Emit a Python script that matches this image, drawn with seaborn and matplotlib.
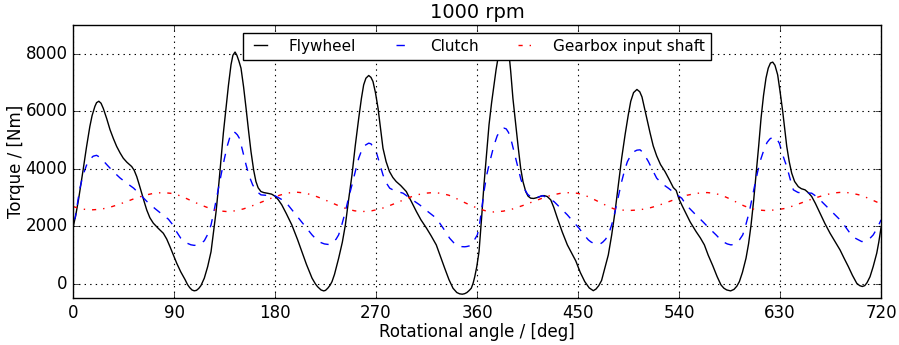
import numpy as np
import pandas as pd
import matplotlib
matplotlib.use("Agg")
import matplotlib.pyplot as plt
import seaborn as sns

# flywheel torque (angle in deg, torque in Nm)
fly_angle = [0, 2.5, 5, 7, 9, 12, 15, 17, 19.5, 21, 23, 25, 27, 30, 33, 36, 38.9, 42, 44.8, 48,
             52.3, 54.5, 56.8, 59, 61.2, 63.5, 65.7, 68.5, 71.6, 76, 80.5, 83.5, 86.4, 89.5, 92.4,
             96, 100, 102, 104, 106, 108, 110, 112, 114, 117, 120, 123, 125, 127.5, 130, 132, 134,
             136.3, 138.5, 140.8, 142.5, 144.4, 146, 147.8, 149.7, 152, 154.2, 156.5, 158.6, 161,
             163, 165, 167.5, 170, 173.5, 177, 180, 183, 186, 190, 195, 200, 204, 208, 213, 216,
             218, 221, 223.4, 225, 227, 229, 230.8, 233, 236.7, 240, 242.7, 245.5, 248.6, 251.5,
             254.6, 257, 259, 261, 263.5, 265.5, 267.3, 269.5, 271.8, 274, 276.2, 279, 282, 285,
             288, 292, 297, 301, 306, 310, 315, 319, 323.7, 327, 331.2, 335, 338.6, 342, 344.5,
             346.9, 349, 351, 353, 354.9, 356.5, 358, 359.8, 361.8, 364, 366.2, 368.5, 370.7, 373,
             375.2, 377, 378.7, 380.5, 382.5, 384.5, 386.5, 388.5, 390, 392, 394.5, 396.7, 398.9,
             401, 403.4, 405.5, 407.8, 410.5, 413.7, 417, 419.7, 422.5, 425.7, 428.5, 431.6, 436,
             440.5, 444, 448, 452, 456, 460, 463.6, 466, 468.5, 471, 474, 477, 480, 483, 486,
             488.9, 492, 494.8, 497, 499.5, 502.5, 505, 507, 509, 511.5, 514.2, 517, 520.1, 523.5,
             527.5, 531, 534.9, 537.5, 540, 543, 546.2, 550, 555.2, 559, 562.6, 566, 570, 574,
             577.4, 580, 582.5, 586, 589, 591.5, 593.8, 596.5, 599.7, 602, 604.2, 606.5, 608.6,
             611, 613.1, 615.3, 617.5, 619.5, 621.5, 623.5, 625.5, 627.9, 630, 632.4, 634.2, 636,
             638.2, 640.4, 643, 646.3, 649, 652.3, 655, 658.2, 661.5, 665.6, 670, 674.6, 679,
             683.5, 687, 690.9, 694.5, 698.4, 701, 703.3, 705.5, 707.5, 710.2, 713, 716.2, 718, 720]
fly_torque = [1950, 2400, 2950, 3450, 3960, 4750, 5470, 5850, 6170, 6300, 6350, 6280, 6100, 5750,
              5360, 5050, 4780, 4550, 4370, 4230, 4080, 3950, 3730, 3450, 3150, 2850, 2570, 2300,
              2110, 1930, 1760, 1560, 1297, 1000, 720, 420, 140, -20, -130, -210, -240, -225,
              -160, -60, 200, 600, 1120, 1750, 2515, 3500, 4370, 5250, 6110, 6900, 7620, 7950,
              8060, 7950, 7750, 7500, 6850, 6110, 5300, 4600, 3950, 3560, 3340, 3210, 3175, 3150,
              3120, 3050, 2920, 2750, 2450, 2050, 1550, 1120, 680, 200, 0, -100, -210, -243, -225,
              -150, -50, 80, 330, 890, 1450, 2050, 2900, 3790, 4800, 5760, 6450, 6920, 7150, 7245,
              7180, 7036, 6650, 6110, 5400, 4720, 4250, 3906, 3700, 3558, 3420, 3210, 2900, 2515,
              2230, 1937, 1680, 1356, 1000, 546, 150, -150, -300, -345, -358, -340, -300, -230,
              -150, 20, 250, 600, 1124, 2250, 3443, 4500, 5530, 6300, 6921, 7450, 7850, 8200, 8450,
              8550, 8450, 8000, 7400, 6450, 5530, 4750, 4024, 3550, 3210, 3050, 2980, 2970, 3002,
              3050, 3071, 3040, 2922, 2650, 2285, 1800, 1356, 1100, 800, 400, 80, -140, -235, -180,
              -60, 120, 560, 1008, 1700, 2515, 3450, 4371, 5200, 5878, 6350, 6650, 6760, 6680,
              6500, 6150, 5700, 5250, 4800, 4450, 4150, 3906, 3650, 3350, 3250, 2950, 2700, 2450,
              2150, 1819, 1600, 1356, 1000, 640, 250, -35, -150, -210, -243, -190, -80, 81, 400,
              893, 1400, 2052, 2900, 3791, 4800, 5763, 6550, 7154, 7500, 7680, 7710, 7600, 7269,
              6700, 5993, 5400, 4780, 4250, 3850, 3560, 3380, 3310, 3270, 3180, 3040, 2800, 2460,
              2100, 1760, 1470, 1180, 900, 600, 300, 20, -60, -90, -60, 40, 250, 600, 1070, 1450,
              1950]

# clutch torque
clu_angle = [0, 2, 4, 6, 9, 12, 15, 18, 21, 24, 27, 30, 36, 42, 48, 54, 60, 66, 73, 80, 85, 89,
             92.5, 96, 99, 102, 105, 108, 111, 114, 117, 120, 123, 126, 129, 132, 135, 137.5, 140,
             142.3, 144.5, 146.5, 148.2, 151, 154.2, 157, 160.1, 163.5, 167.5, 172, 176.4, 180,
             183, 189.2, 195, 201.1, 207, 213, 217, 220, 224, 227.8, 230, 232, 234.5, 236.7,
             239.5, 242.7, 245.5, 248.6, 251.5, 254.6, 257, 259.5, 263.5, 265.5, 267.5, 270.5,
             273.5, 276.2, 279, 282.2, 287, 294.1, 301, 308.9, 316, 323.7, 330, 335.6, 340, 343,
             346, 349, 351, 353, 354.9, 356.5, 358, 360.3, 362, 364, 366.2, 369, 372.2, 375, 378,
             381, 384.1, 386, 388, 390, 393, 395.9, 399, 401.9, 405, 409.3, 413.5, 418.2, 423,
             428.6, 434, 440.5, 446, 450.9, 455, 459.2, 461.5, 464, 466, 468.1, 470, 472, 474.5,
             477, 480, 483, 486, 488.9, 491.5, 494, 497, 500, 502.5, 505.3, 507, 509, 512.7, 516.5,
             520.1, 525, 530.5, 534, 537.3, 542.4, 545.5, 549.2, 555, 561.1, 567, 573, 576.5, 580,
             583, 586.3, 588.5, 591, 594, 596.8, 599.5, 602.7, 606.5, 610.1, 613, 616, 618.5, 621,
             623.5, 625.5, 627.5, 629.5, 632.4, 634, 636, 639, 641.9, 646, 650.8, 654.5, 658.2,
             662, 665.6, 670, 674.6, 679, 683.5, 688, 692.4, 697.5, 702.8, 706.5, 710.2, 713, 716,
             718, 720]
clu_torque = [2200, 2300, 2800, 3300, 3790, 4120, 4330, 4440, 4470, 4400, 4280, 4150, 3900, 3680,
              3500, 3330, 3100, 2860, 2620, 2400, 2250, 2050, 1800, 1590, 1480, 1410, 1360, 1340,
              1350, 1400, 1500, 1720, 2050, 2600, 3210, 3800, 4370, 4800, 5130, 5290, 5260, 5180,
              5067, 4650, 4139, 3750, 3443, 3220, 3095, 3080, 3095, 3060, 3000, 2862, 2580, 2285,
              2000, 1704, 1540, 1450, 1390, 1370, 1390, 1450, 1560, 1704, 2050, 2515, 2980, 3443,
              3900, 4371, 4620, 4800, 4893, 4870, 4760, 4550, 4150, 3791, 3520, 3328, 3230, 3154,
              2960, 2748, 2520, 2285, 1930, 1589, 1400, 1330, 1297, 1290, 1300, 1320, 1356, 1420,
              1550, 1704, 2000, 2550, 3210, 3850, 4371, 4800, 5150, 5340, 5415, 5390, 5270, 5067,
              4600, 4139, 3650, 3328, 3120, 2980, 3000, 3071, 2990, 2862, 2650, 2400, 2150, 1937,
              1720, 1530, 1460, 1410, 1385, 1380, 1395, 1450, 1550, 1704, 2050, 2515, 3050, 3558,
              3950, 4250, 4470, 4600, 4650, 4661, 4600, 4500, 4254, 3950, 3676, 3480, 3328, 3220,
              3120, 2980, 2800, 2632, 2400, 2168, 1930, 1704, 1560, 1450, 1390, 1356, 1370, 1430,
              1540, 1704, 2050, 2515, 3250, 3906, 4350, 4700, 4920, 5040, 5100, 5100, 5020, 4880,
              4487, 4300, 4080, 3650, 3269, 3180, 3154, 3160, 3154, 3050, 2922, 2750, 2574, 2400,
              2226, 2000, 1763, 1580, 1472, 1490, 1587, 1700, 1900, 2050, 2226]

# gearbox input shaft torque
gb_angle = [0, 7, 15, 23, 31, 39, 47, 55, 64, 72, 80, 87, 94, 101, 108, 115.5, 123, 130, 137,
            144.5, 152, 160, 168, 176, 184, 191.5, 199, 206.5, 214, 221.5, 229, 236.5, 244, 251,
            258, 266, 274, 282, 290, 297.5, 305, 313, 321, 328, 335, 341.5, 348, 355, 362, 368.5,
            375, 383.5, 392, 400.5, 409, 417.5, 426, 434.5, 443, 449.5, 456, 462.5, 469, 475.5,
            482, 488.5, 495, 503.5, 512, 521, 530, 538.5, 547, 556, 565, 571.5, 578, 584.5, 591,
            597.5, 604, 610.5, 617, 625.5, 634, 642.5, 651, 660, 669, 677.5, 686, 693, 700, 706,
            712, 716, 720]
gb_torque = [2690, 2610, 2570, 2590, 2640, 2740, 2850, 2970, 3082, 3150, 3175, 3150, 3082, 2970,
             2845, 2720, 2608, 2540, 2515, 2540, 2608, 2720, 2845, 2970, 3082, 3160, 3190, 3160,
             3082, 2970, 2845, 2720, 2608, 2540, 2515, 2540, 2608, 2720, 2845, 2970, 3082, 3150,
             3175, 3150, 3082, 2970, 2845, 2720, 2608, 2530, 2500, 2530, 2608, 2720, 2845, 2970,
             3082, 3150, 3175, 3150, 3082, 2970, 2845, 2720, 2608, 2570, 2550, 2570, 2620, 2720,
             2845, 2970, 3082, 3150, 3175, 3150, 3082, 2970, 2845, 2720, 2620, 2570, 2550, 2570,
             2620, 2720, 2845, 2970, 3082, 3160, 3190, 3160, 3100, 3020, 2920, 2850, 2780]

plt.style.use("classic")
plt.rcParams["font.family"] = ["DejaVu Sans"]

fig, ax = plt.subplots(figsize=(8.99, 3.45), dpi=100)
fig.subplots_adjust(left=0.0812, right=0.980, top=0.9275, bottom=0.1354)

sns.lineplot(x=fly_angle, y=fly_torque, color="k", linewidth=1.0, label="Flywheel", ax=ax)
sns.lineplot(x=clu_angle, y=clu_torque, color="b", linewidth=1.0, linestyle="--",
             label="Clutch", ax=ax)
sns.lineplot(x=gb_angle, y=gb_torque, color="r", linewidth=1.0, linestyle="-.",
             label="Gearbox input shaft", ax=ax)

ax.set_xlim(0, 720)
ax.set_ylim(-500, 9000)
ax.set_xticks(np.arange(0, 721, 90))
ax.set_yticks(np.arange(0, 8001, 2000))
ax.grid(True, color="k", linestyle=":", linewidth=0.8)
ax.set_xlabel("Rotational angle / [deg]", labelpad=1)
ax.set_ylabel("Torque / [Nm]", labelpad=0)
ax.set_title("1000 rpm", fontsize=14)
leg = ax.legend(loc="upper center", ncol=3, fontsize=11, framealpha=1.0,
                handlelength=1.45, handletextpad=1.1, columnspacing=2.3)
leg.set_zorder(5)

fig.savefig("out.png", dpi=100)
